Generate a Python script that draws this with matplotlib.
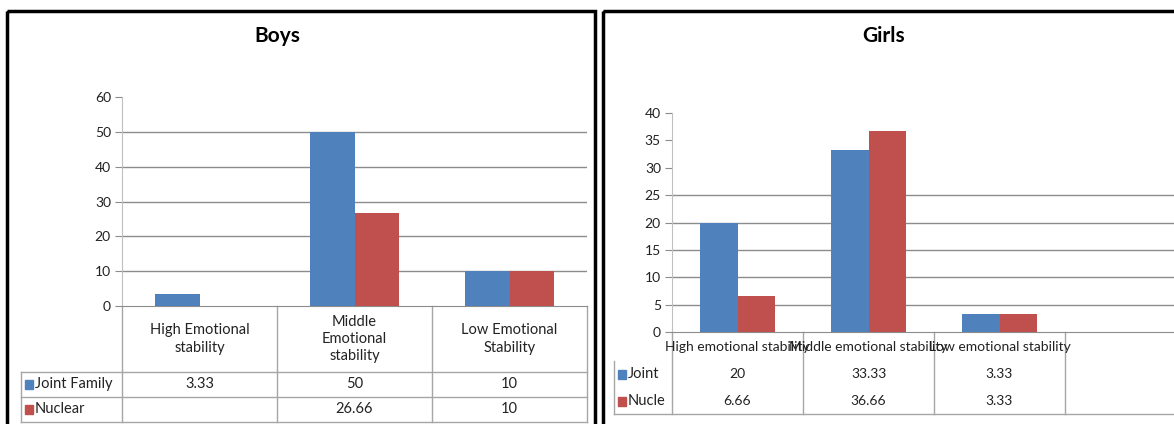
import matplotlib.pyplot as plt
import matplotlib.transforms as mtransforms
from matplotlib.patches import Rectangle

plt.rcParams['font.family'] = ['Lato', 'DejaVu Sans']

# data
boys_cats = ['High Emotional\nstability', 'Middle\nEmotional\nstability', 'Low Emotional\nStability']
boys_joint = [3.33, 50, 10]
boys_nuclear = [None, 26.66, 10]
boys_rows = ['Joint Family', 'Nuclear']

girls_cats = ['High emotional stability', 'Middle emotional stability', 'Low emotional stability']
girls_joint = [20, 33.33, 3.33]
girls_nuclear = [6.66, 36.66, 3.33]
girls_rows = ['Joint', 'Nucle']

BLUE = '#4f81bd'
RED = '#c0504d'
GRID = '#8c8c8c'
TBL = '#a6a6a6'
TXT = '#222222'

W, H = 1174, 424


def box(l, t, r, b):
    return [l / W, 1 - b / H, (r - l) / W, (b - t) / H]


def fmt(v):
    if v is None:
        return ''
    return ('%g' % v)


fig = plt.figure(figsize=(W / 100, H / 100), dpi=100)
bg = fig.add_axes([0, 0, 1, 1])
bg.set_xlim(0, W)
bg.set_ylim(H, 0)
bg.axis('off')

# panel frames + titles
bg.add_patch(Rectangle((7, 11), 588, 430, fill=False, lw=2.5, ec='black'))
bg.add_patch(Rectangle((603, 11), 590, 430, fill=False, lw=2.5, ec='black'))
bg.text(277, 36, 'Boys', ha='center', va='center', fontsize=15, fontweight='bold')
bg.text(884, 36, 'Girls', ha='center', va='center', fontsize=15, fontweight='bold')


def chart(rect, ymax, ystep, grid_vals, ncols, joint, nuclear):
    ax = fig.add_axes(rect)
    ax.set_facecolor('none')
    x = list(range(len(joint)))
    w = 0.285
    ax.bar([i - w / 2 for i in x], [v or 0 for v in joint], w, color=BLUE, zorder=3)
    ax.bar([i + w / 2 for i in x], [v or 0 for v in nuclear], w, color=RED, zorder=3)
    for g in grid_vals:
        ax.axhline(g, color=GRID, lw=1, zorder=1)
    ax.set_xlim(-0.5, ncols - 0.5)
    ax.set_ylim(0, ymax)
    ax.set_yticks(range(0, ymax + 1, ystep))
    ax.set_xticks([])
    for s in ['top', 'right']:
        ax.spines[s].set_visible(False)
    ax.spines['left'].set_color('#bfbfbf')
    ax.spines['bottom'].set_color(GRID)
    ax.tick_params(axis='y', length=5, color=GRID, labelsize=10, pad=3, labelcolor=TXT)
    return ax


# Boys
ax1 = chart(box(122, 97, 587, 306), 60, 10, [10, 20, 30, 40, 50], 3, boys_joint, boys_nuclear)
t1 = mtransforms.blended_transform_factory(ax1.transData, bg.transData)
for k in range(4):
    bg.plot([k - 0.5, k - 0.5], [306, 422], color=TBL, lw=1, transform=t1, clip_on=False)
bg.plot([21, 21], [372, 422], color=TBL, lw=1)
for yy in [372, 397, 422]:
    bg.plot([21, 587], [yy, yy], color=TBL, lw=1)
for i, c in enumerate(boys_cats):
    bg.text(i, 339, c, transform=t1, ha='center', va='center', fontsize=10.5, linespacing=1.3, color=TXT)
    bg.text(i, 384, fmt(boys_joint[i]), transform=t1, ha='center', va='center', fontsize=10.5, color=TXT)
    bg.text(i, 409, fmt(boys_nuclear[i]), transform=t1, ha='center', va='center', fontsize=10.5, color=TXT)
for yy, lab, col in zip([384, 409], boys_rows, [BLUE, RED]):
    bg.add_patch(Rectangle((25, yy - 4.5), 8, 9, color=col))
    bg.text(35, yy, lab, ha='left', va='center', fontsize=10.5, color=TXT)

# Girls
ax2 = chart(box(672, 113, 1174, 332), 40, 5, [5, 10, 15, 20, 25], (1174 - 672) / 131, girls_joint, girls_nuclear)
ax2.set_xlim(-0.5, -0.5 + (1174 - 672) / 131)
t2 = mtransforms.blended_transform_factory(ax2.transData, bg.transData)
for k in range(4):
    bg.plot([k - 0.5, k - 0.5], [332, 414], color=TBL, lw=1, transform=t2, clip_on=False)
bg.plot([614, 614], [361, 414], color=TBL, lw=1)
bg.plot([614, 1174], [414, 414], color=TBL, lw=1)
for i, c in enumerate(girls_cats):
    bg.text(i, 347, c, transform=t2, ha='center', va='center', fontsize=10, color=TXT)
    bg.text(i, 374, fmt(girls_joint[i]), transform=t2, ha='center', va='center', fontsize=10, color=TXT)
    bg.text(i, 401, fmt(girls_nuclear[i]), transform=t2, ha='center', va='center', fontsize=10, color=TXT)
for yy, lab, col in zip([374, 401], girls_rows, [BLUE, RED]):
    bg.add_patch(Rectangle((618, yy - 4.5), 8, 9, color=col))
    bg.text(628, yy, lab, ha='left', va='center', fontsize=10.5, color=TXT)

fig.savefig('out.png', dpi=100)
